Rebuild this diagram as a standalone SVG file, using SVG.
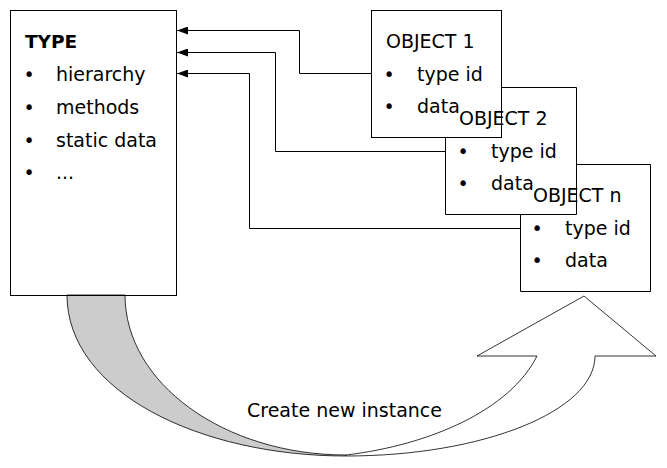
<svg xmlns="http://www.w3.org/2000/svg" width="667" height="468" viewBox="0 0 667 468">
<style>
  .box { fill: none; stroke: #000; stroke-width: 1; }
  .t { font-family: "DejaVu Sans", Verdana, sans-serif; font-size: 19px; fill: #000; }
  .b { font-family: "DejaVu Sans", Verdana, sans-serif; font-size: 19px; fill: #000; text-anchor: middle; }
  .h { font-family: "DejaVu Sans", Verdana, sans-serif; font-size: 18.5px; font-weight: bold; fill: #000; }
  .conn { fill: none; stroke: #000; stroke-width: 1; marker-end: url(#arr); }
  .band { stroke: #000; stroke-width: 0.8; }
</style>
<defs>
  <marker id="arr" markerUnits="userSpaceOnUse" markerWidth="11" markerHeight="8" refX="11" refY="4" orient="auto">
    <path d="M0,0 L11,4 L0,8 z" fill="#000"/>
  </marker>
</defs>
<rect width="667" height="468" fill="#fff"/>

<g id="create-arrow">
  <path class="band" fill="#cccccc" d="M67,295 C67,392 200,456 346,456 L346,455 C224,455 125,383 125,295 Z"/>
  <path class="band" fill="#ffffff" d="M346,456 C483,456 595,411 595,356 L656,356 L584,296 L477,356 L537,356 C510,410 430,445 346,455 Z"/>
  <text class="t" x="247" y="417">Create new instance</text>
</g>

<g id="type">
  <rect class="box" x="10.5" y="10.5" width="166" height="285"/>
  <text class="h" x="25" y="48">TYPE</text>
  <text class="b" x="29" y="81">•</text><text class="t" x="56" y="81">hierarchy</text>
  <text class="b" x="29" y="114">•</text><text class="t" x="56" y="114">methods</text>
  <text class="b" x="29" y="147">•</text><text class="t" x="56" y="147">static data</text>
  <text class="b" x="29" y="179">•</text><text class="t" x="56" y="179">...</text>
</g>

<g id="connectors">
  <path class="conn" d="M371,73.5 H299.5 V30.5 H177"/>
  <path class="conn" d="M445,151.5 H275.5 V52.5 H177"/>
  <path class="conn" d="M520,228.5 H249.5 V73.5 H177"/>
</g>

<g id="object-n">
  <path class="box" d="M576,164.5 H650.5 V291.5 H520.5 V214"/>
  <text class="t" x="533" y="202">OBJECT n</text>
  <text class="b" x="537" y="235">•</text><text class="t" x="565" y="235">type id</text>
  <text class="b" x="537" y="267">•</text><text class="t" x="565" y="267">data</text>
</g>

<g id="object-2">
  <path class="box" d="M501,87.5 H576.5 V214.5 H445.5 V137"/>
  <text class="t" x="459" y="125">OBJECT 2</text>
  <text class="b" x="463" y="158">•</text><text class="t" x="491" y="158">type id</text>
  <text class="b" x="463" y="190">•</text><text class="t" x="491" y="190">data</text>
</g>

<g id="object-1">
  <rect class="box" x="371.5" y="10.5" width="130" height="127"/>
  <text class="t" x="386" y="48">OBJECT 1</text>
  <text class="b" x="389" y="81">•</text><text class="t" x="417" y="81">type id</text>
  <text class="b" x="389" y="113">•</text><text class="t" x="417" y="113">data</text>
</g>
</svg>
